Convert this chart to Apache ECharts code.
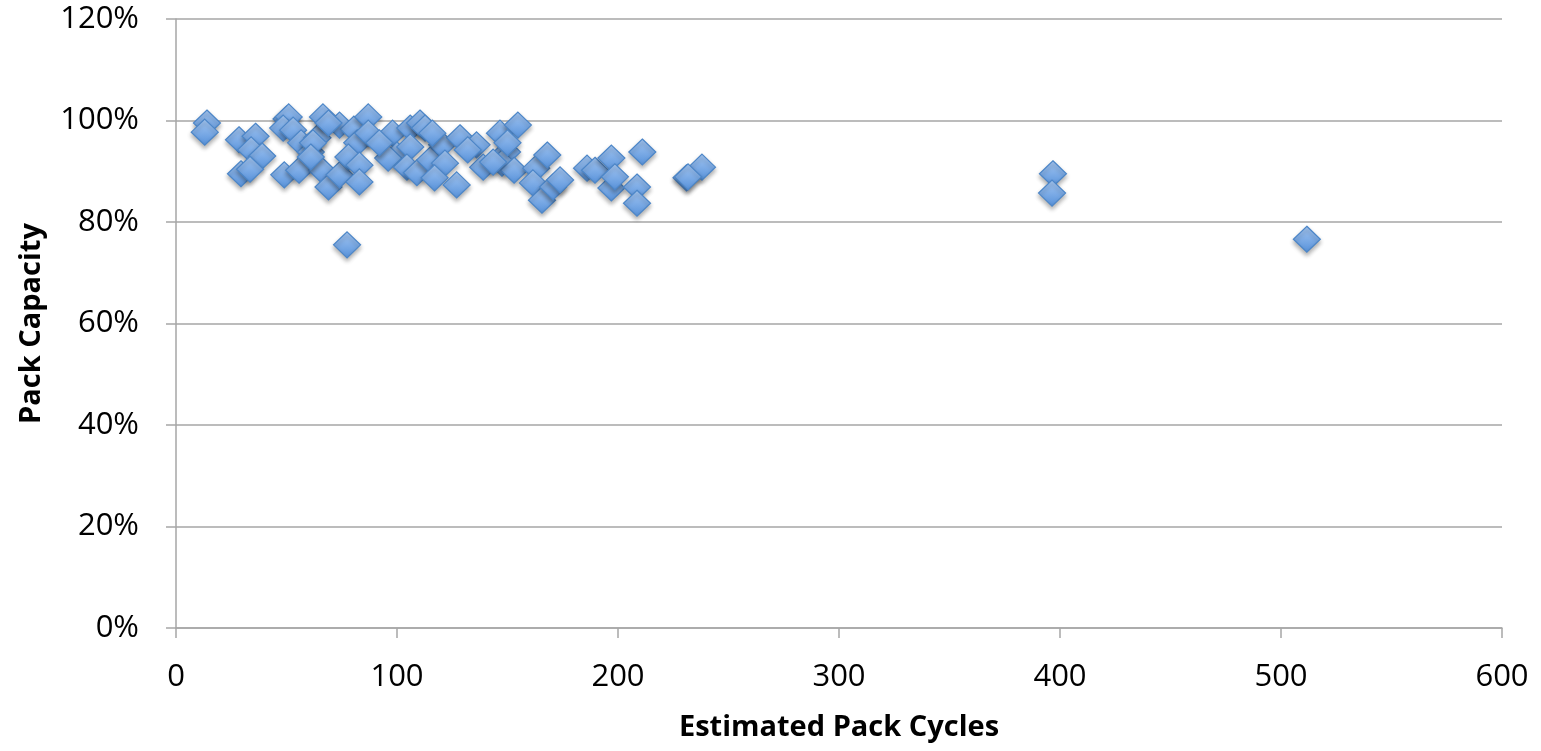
<!DOCTYPE html>
<html>
<head>
<meta charset="utf-8">
<title>Pack Capacity vs Estimated Pack Cycles</title>
<script src="https://cdn.jsdelivr.net/npm/echarts@6/dist/echarts.min.js"></script>
<style>
  html, body { margin: 0; padding: 0; background: #fff; }
  #chart { width: 1541px; height: 751px; }
</style>
</head>
<body>
<div id="chart"></div>
<script>
// values: estimated cycles, capacity in %
const cycles = [
  14, 13, 28.5, 36, 34, 39, 29.4, 33.5, 49, 50, 51, 48.5, 53, 56.6, 55.7, 61, 64,
  66.5, 66, 69, 74, 74, 80.5, 82, 78, 83, 83, 87, 77.4, 87, 69, 62, 61,
  98, 100, 96, 106, 110.4, 112.7, 106, 104.5, 109, 115, 120.4, 121.7, 117, 127,
  128.5, 136, 139, 146.6, 154.7, 149.8, 147.5, 153, 150, 163, 168, 161.5, 165.6,
  170.6, 143.5, 132, 92, 116,
  173.8, 186, 189.6, 197, 197, 198.6, 211, 208.6, 208.6, 231, 238, 231.7,
  396.8, 396.4, 511.7
];
const capacity = [
  99.5, 97.7, 96.2, 96.9, 94.2, 93, 89.5, 90.4, 89.3, 100.3, 100.7, 98.5, 98.1, 95.6, 90.2, 93.8, 96.6,
  100.7, 90.2, 86.9, 89.3, 99.1, 98.3, 95.6, 92.8, 91.2, 87.9, 100.7, 75.5, 97.5, 99.5, 95.6, 92.8,
  97.5, 93.2, 92.6, 98.5, 99.5, 98.5, 94.8, 90.8, 89.7, 92.2, 95.2, 91.6, 88.7, 87.3,
  96.6, 95.2, 90.8, 97.5, 99.1, 93.8, 91.6, 90.2, 95.6, 90.6, 93.2, 87.7, 84.3,
  86.9, 91.8, 94.2, 95.6, 97.5,
  88.3, 90.6, 90.2, 92.6, 86.7, 88.9, 93.8, 86.9, 83.7, 88.7, 90.8, 88.9,
  89.5, 85.7, 76.6
];
const xTicks = [0, 100, 200, 300, 400, 500, 600];
const yTicks = [0, 20, 40, 60, 80, 100, 120];

const FONT = "'Open Sans', Lato, sans-serif";
const GRID_GRAY = "#a6a6a6";

const chart = echarts.init(document.getElementById("chart"), null, { renderer: "canvas" });

chart.setOption({
  backgroundColor: "#fff",
  animation: false,
  grid: { left: 176, right: 39, top: 19, bottom: 123, outerBoundsMode: "none", containLabel: false },
  xAxis: {
    type: "value",
    min: xTicks[0],
    max: xTicks[xTicks.length - 1],
    interval: 100,
    name: "Estimated Pack Cycles",
    nameLocation: "middle",
    nameGap: 85,
    nameTextStyle: { fontFamily: FONT, fontWeight: "bold", fontSize: 29, color: "#000" },
    axisLine: { show: true, lineStyle: { color: GRID_GRAY, width: 1.5 } },
    axisTick: { show: true, length: 10, lineStyle: { color: GRID_GRAY, width: 1.5 } },
    axisLabel: { fontFamily: FONT, fontSize: 31, color: "#000", margin: 34 },
    splitLine: { show: false }
  },
  yAxis: {
    type: "value",
    min: yTicks[0],
    max: yTicks[yTicks.length - 1],
    interval: 20,
    name: "Pack Capacity",
    nameLocation: "middle",
    nameGap: 130,
    nameRotate: 90,
    nameTextStyle: { fontFamily: FONT, fontWeight: "bold", fontSize: 29, color: "#000" },
    axisLine: { show: true, lineStyle: { color: GRID_GRAY, width: 1.5 } },
    axisTick: { show: true, length: 10, lineStyle: { color: GRID_GRAY, width: 1.5 } },
    axisLabel: { fontFamily: FONT, fontSize: 31, color: "#000", margin: 37, formatter: v => v + "%" },
    splitLine: { show: true, lineStyle: { color: GRID_GRAY, width: 1.5 } }
  },
  series: [{
    type: "scatter",
    symbol: "diamond",
    symbolSize: [27, 26],
    data: cycles.map((c, i) => [c, capacity[i]]),
    itemStyle: {
      opacity: 1,
      color: new echarts.graphic.LinearGradient(0, 0, 0, 1, [
        { offset: 0, color: "#a6c8f3" },
        { offset: 1, color: "#5691da" }
      ]),
      borderColor: "#4c86c8",
      borderWidth: 1.2,
      shadowColor: "rgba(0,0,0,0.3)",
      shadowBlur: 4,
      shadowOffsetY: 3
    }
  }]
});
</script>
</body>
</html>
